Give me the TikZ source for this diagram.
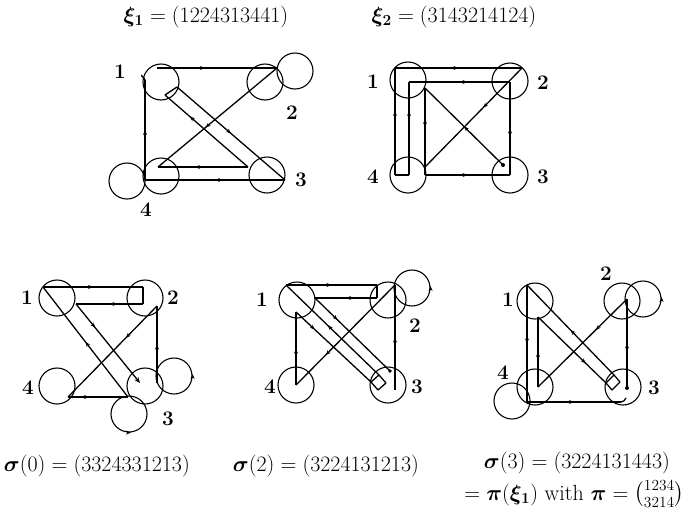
\RequirePackage{fix-cm}
\documentclass[tikz,border=0pt]{standalone}
\usepackage{amsmath,bm}
\usetikzlibrary{arrows.meta,decorations.markings}
\tikzset{
  walk/.style={line width=1.3pt, line join=round},
  arr/.style={walk, postaction={decorate}, decoration={markings, mark=at position #1 with {\arrow{Stealth[length=5pt,width=4pt]}}}},
  arr/.default=0.5,
  vtx/.style={circle, draw, line width=1.1pt, minimum size=36pt, inner sep=0pt},
  lbl/.style={font=\fontsize{20.74}{25}\selectfont\bfseries, inner sep=0pt},
  ttl/.style={font=\fontsize{22}{25}\selectfont, inner sep=0pt},
  tipmark/.style={line width=1.1pt, -{Stealth[length=5pt,width=4pt]}},
}
\begin{document}
\begin{tikzpicture}[x=1pt,y=-1pt]
\useasboundingbox (0,0) rectangle (691,512);

% ---------------- xi_1 ----------------
\node[ttl] (T1) at (206,17) {$\bm{\xi_1} = (1224313441)$};
\node[vtx] (A1) at (161,82) {};
\node[vtx] (A2) at (265,82) {};
\node[vtx] (A2L) at (295,71) {};
\node[vtx] (A4) at (161,176) {};
\node[vtx] (A4L) at (127,181) {};
\node[vtx] (A3) at (267,175) {};
\node[lbl] (A1t) at (120,72) {1};
\node[lbl] (A2t) at (292,113) {2};
\node[lbl] (A3t) at (301,180) {3};
\node[lbl] (A4t) at (146,210) {4};
\coordinate (a0) at (145,80);
\coordinate (a1) at (157,68);
\coordinate (a2) at (277,68);
\coordinate (a3) at (158,167);
\coordinate (a4) at (248,167);
\coordinate (a5) at (165,95);
\coordinate (a6) at (177,87);
\coordinate (a7) at (285,180);
\coordinate (a8) at (145,180);
\draw[arr=0.4] (a1) -- (a2);
\draw[arr=0.6] (a2) -- (a3);
\draw[arr] (a3) -- (a4);
\draw[arr=0.7] (a4) -- (a5);
\draw[walk] (a5) -- (a6);
\draw[arr=0.5] (a6) -- (a7);
\draw[arr] (a7) -- (a8);
\draw[arr] (a8) -- (a0);
\draw[walk] (a0) to[out=90,in=200] ([xshift=-3pt,yshift=5pt]a0);

% ---------------- xi_2 ----------------
\node[ttl] (T2) at (454,17) {$\bm{\xi_2} = (3143214124)$};
\node[vtx] (B1) at (408,80) {};
\node[vtx] (B2) at (510,81) {};
\node[vtx] (B4) at (408,175) {};
\node[vtx] (B3) at (510,175) {};
\node[lbl] (B1t) at (373,82) {1};
\node[lbl] (B2t) at (543,83) {2};
\node[lbl] (B4t) at (373,177) {4};
\node[lbl] (B3t) at (543,177) {3};
\coordinate (b1) at (503,165);
\coordinate (b2) at (425,88);
\coordinate (b3) at (425,175);
\coordinate (b4) at (510,175);
\coordinate (b5) at (510,82);
\coordinate (b6) at (409,82);
\coordinate (b7) at (409,175);
\coordinate (b8) at (395,175);
\coordinate (b9) at (395,68);
\coordinate (b10) at (522,68);
\coordinate (b11) at (425,167);
\fill (b1) circle (2pt);
\draw[arr] (b1) -- (b2);
\draw[arr=0.45,line width=1.7pt] (b2) -- (b3);
\draw[arr,line width=1.7pt] (b3) -- (b4);
\draw[arr,line width=1.7pt] (b4) -- (b5);
\draw[arr,line width=1.7pt] (b5) -- (b6);
\draw[arr=0.4,line width=1.7pt] (b6) -- (b7);
\draw[walk] (b7) -- (b8);
\draw[arr=0.6] (b8) -- (b9);
\draw[arr] (b9) -- (b10);
\draw[arr=0.4] (b10) -- (b11);

% ---------------- sigma(0) ----------------
\node[vtx] (C1) at (57,298) {};
\node[vtx] (C2) at (145,298) {};
\node[vtx] (C4) at (57,386) {};
\node[vtx] (C3) at (145,386) {};
\node[vtx] (C3a) at (174,376) {};
\node[vtx] (C3b) at (129,414) {};
\node[lbl] (C1t) at (27,298) {1};
\node[lbl] (C2t) at (173,298) {2};
\node[lbl] (C4t) at (28,388) {4};
\node[lbl] (C3t) at (168,419) {3};
\draw[tipmark] ([yshift=-2pt]C3a.east) -- ([yshift=2pt]C3a.east);
\draw[tipmark] ([xshift=-2pt]C3b.south) -- ([xshift=2pt]C3b.south);
\coordinate (c1) at (157,383);
\coordinate (c2) at (157,306);
\coordinate (c3) at (68,397);
\coordinate (c4) at (128,397);
\coordinate (c5) at (43,287);
\coordinate (c6) at (143,287);
\coordinate (c7) at (143,304);
\coordinate (c8) at (76,304);
\coordinate (c9) at (140,383);
\draw[arr] (c1) -- (c2);
\draw[arr=0.35] (c2) -- (c3);
\draw[arr=0.35] (c3) -- (c4);
\draw[arr=0.5] (c4) -- (c5);
\draw[arr] (c5) -- (c6);
\draw[walk] (c6) -- (c7);
\draw[arr] (c7) -- (c8);
\draw[arr=0.3,-{Stealth[length=6pt,width=5pt]}] (c8) -- (c9);
\node[ttl] (S0) at (97,466) {$\bm{\sigma}(0) = (3324331213)$};

% ---------------- sigma(2) ----------------
\node[vtx] (D1) at (297,300) {};
\node[vtx] (D2) at (388,300) {};
\node[vtx] (D2L) at (412,288) {};
\node[vtx] (D4) at (296,385) {};
\node[vtx] (D3) at (388,385) {};
\node[lbl] (D1t) at (262,300) {1};
\node[lbl] (D2t) at (415,326) {2};
\node[lbl] (D4t) at (270,387) {4};
\node[lbl] (D3t) at (417,387) {3};
\draw[tipmark] ([yshift=-2pt]D2L.east) -- ([yshift=2pt]D2L.east);
\coordinate (d1) at (395,390);
\coordinate (d2) at (395,285);
\coordinate (d3) at (296,385);
\coordinate (d4) at (296,312);
\coordinate (d5) at (371,382);
\coordinate (d5b) at (378,390);
\coordinate (d6b) at (386,383);
\coordinate (d6) at (379,375);
\coordinate (d7) at (286,285);
\coordinate (d8) at (377,285);
\coordinate (d9) at (377,298);
\coordinate (d10) at (315,298);
\coordinate (d11) at (390,371);
\draw[arr] (d1) -- (d2);
\draw[arr=0.7] (d2) -- (d3);
\draw[arr] (d3) -- (d4);
\draw[arr=0.25] (d4) -- (d5);
\draw[walk] (d5) -- (d5b) -- (d6b) -- (d6) -- cycle;
\draw[arr=0.55] (d6) -- (d7);
\draw[arr] (d7) -- (d8);
\draw[walk] (d8) -- (d9);
\draw[arr] (d9) -- (d10);
\draw[arr=0.3] (d10) -- (d11);
\fill (d11) circle (1.8pt);
\node[ttl] (S2) at (326,466) {$\bm{\sigma}(2) = (3224131213)$};

% ---------------- sigma(3) ----------------
\node[vtx] (E1) at (535,301) {};
\node[vtx] (E2) at (622,301) {};
\node[vtx] (E2L) at (643,299) {};
\node[vtx] (E4) at (535,387) {};
\node[vtx] (E4L) at (512,401) {};
\node[vtx] (E3) at (623,387) {};
\node[lbl] (E1t) at (508,300) {1};
\node[lbl] (E2t) at (606,274) {2};
\node[lbl] (E4t) at (503,373) {4};
\node[lbl] (E3t) at (654,388) {3};
\draw[tipmark] ([yshift=-2pt]E2L.east) -- ([yshift=2pt]E2L.east);
\coordinate (e1) at (627,388);
\coordinate (e2) at (627,299);
\coordinate (e3) at (538,387);
\coordinate (e4) at (538,317);
\coordinate (e5) at (606,383);
\coordinate (e5b) at (612,390);
\coordinate (e6b) at (620,382);
\coordinate (e6) at (614,375);
\coordinate (e7) at (527,285);
\coordinate (e8) at (527,402);
\coordinate (e9) at (621,402);
\fill (e1) circle (2pt);
\draw[arr] (e1) -- (e2);
\draw[arr=0.35] (e2) -- (e3);
\draw[arr] (e3) -- (e4);
\draw[arr=0.7] (e4) -- (e5);
\draw[walk] (e5) -- (e5b) -- (e6b) -- (e6) -- cycle;
\draw[arr=0.5] (e6) -- (e7);
\draw[arr=0.5] (e7) -- (e8);
\draw[arr] (e8) -- (e9);
\draw[walk] (e9) to[out=0,in=-120] ([xshift=5pt,yshift=4pt]e9);
\node[ttl] (S3) at (577,463) {$\bm{\sigma}(3) = (3224131443)$};
\node[ttl, anchor=base] (S3b) at (574,500) {$= \bm{\pi}(\bm{\xi_1})$ with $\bm{\pi} = \smash{\binom{1234}{3214}}$};
\end{tikzpicture}
\end{document}
